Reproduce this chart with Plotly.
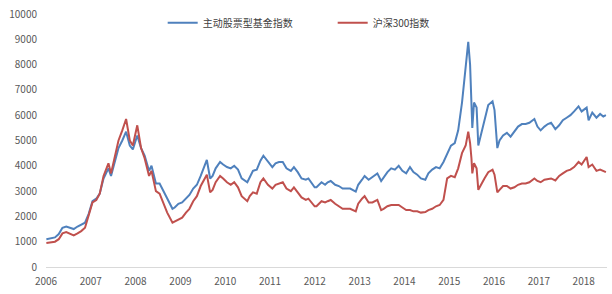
import plotly.graph_objects as go

dates = [
    "2006-01-04", "2006-02-15", "2006-03-15", "2006-04-15", "2006-05-15", "2006-06-15",
    "2006-07-15", "2006-08-15", "2006-09-15", "2006-10-15", "2006-11-15", "2006-12-15",
    "2007-01-15", "2007-02-15", "2007-03-15", "2007-04-15", "2007-05-25", "2007-06-15",
    "2007-07-15", "2007-08-15", "2007-09-15", "2007-10-16", "2007-11-15", "2007-12-10",
    "2008-01-15", "2008-02-15", "2008-03-15", "2008-04-20", "2008-05-10", "2008-06-15",
    "2008-07-15", "2008-08-15", "2008-09-15", "2008-10-28", "2008-11-15", "2008-12-15",
    "2009-01-15", "2009-02-15", "2009-03-15", "2009-04-15", "2009-05-15", "2009-06-15",
    "2009-07-10", "2009-08-04", "2009-08-31", "2009-09-20", "2009-10-15", "2009-11-20",
    "2009-12-15", "2010-01-15", "2010-02-15", "2010-03-15", "2010-04-15", "2010-05-15",
    "2010-06-30", "2010-07-20", "2010-08-15", "2010-09-15", "2010-10-15", "2010-11-08",
    "2010-12-15", "2011-01-20", "2011-02-15", "2011-03-15", "2011-04-15", "2011-05-15",
    "2011-06-20", "2011-07-15", "2011-08-15", "2011-09-15", "2011-10-20", "2011-11-10",
    "2011-12-31", "2012-01-15", "2012-02-25", "2012-03-25", "2012-04-15", "2012-05-10",
    "2012-06-15", "2012-07-15", "2012-08-15", "2012-09-15", "2012-10-15", "2012-11-30",
    "2012-12-20", "2013-01-20", "2013-02-10", "2013-03-15", "2013-04-15", "2013-05-25",
    "2013-06-25", "2013-07-15", "2013-08-15", "2013-09-15", "2013-10-15", "2013-11-15",
    "2013-12-15", "2014-01-15", "2014-02-15", "2014-03-15", "2014-04-15", "2014-05-15",
    "2014-06-20", "2014-07-15", "2014-08-15", "2014-09-15", "2014-10-15", "2014-11-15",
    "2014-12-15", "2015-01-15", "2015-02-15", "2015-03-15", "2015-04-15", "2015-05-15",
    "2015-06-05", "2015-06-20", "2015-07-01", "2015-07-08", "2015-07-22", "2015-08-12",
    "2015-08-26", "2015-09-15", "2015-10-15", "2015-11-15", "2015-12-20", "2016-01-05",
    "2016-01-28", "2016-02-15", "2016-03-15", "2016-04-15", "2016-05-15", "2016-06-15",
    "2016-07-15", "2016-08-15", "2016-09-15", "2016-10-15", "2016-11-25", "2016-12-20",
    "2017-01-15", "2017-02-15", "2017-03-15", "2017-04-10", "2017-05-15", "2017-06-15",
    "2017-07-15", "2017-08-15", "2017-09-15", "2017-10-15", "2017-11-20", "2017-12-15",
    "2018-01-25", "2018-02-10", "2018-03-12", "2018-04-15", "2018-05-15", "2018-06-10",
    "2018-07-01",
]

fund_index = [
    1100, 1150, 1170, 1300, 1550, 1600,
    1550, 1500, 1600, 1680, 1750, 2100,
    2600, 2700, 2900, 3500, 3900, 3600,
    4200, 4700, 5000, 5350, 4800, 4650,
    5200, 4700, 4400, 3800, 4000, 3300,
    3300, 3000, 2700, 2300, 2350, 2500,
    2550, 2700, 2850, 3100, 3250, 3600,
    3900, 4230, 3500, 3600, 3900, 4150,
    4050, 3950, 3900, 4000, 3850, 3500,
    3350, 3550, 3800, 3850, 4200, 4400,
    4150, 3950, 4100, 4150, 4150, 3900,
    3800, 3950, 3750, 3500, 3450, 3500,
    3150, 3150, 3350, 3250, 3350, 3400,
    3250, 3200, 3100, 3100, 3100, 2980,
    3250, 3450, 3600, 3450, 3550, 3700,
    3400, 3550, 3750, 3900, 3850, 4000,
    3800, 3700, 3950, 3750, 3650, 3500,
    3450, 3700, 3850, 3950, 3900, 4150,
    4500, 4800, 4900, 5400, 6500, 7800,
    8900, 8000, 6800, 5500, 6500, 6300,
    4800, 5200, 5900, 6400, 6550, 6200,
    4700, 5000, 5200, 5300, 5150, 5350,
    5550, 5650, 5650, 5700, 5850, 5550,
    5400, 5550, 5650, 5700, 5450, 5600,
    5800, 5900, 6000, 6150, 6350, 6150,
    6300, 5800, 6100, 5900, 6050, 5950,
    6000,
]

hs300_index = [
    950, 990, 1000, 1100, 1330, 1380,
    1300, 1250, 1330, 1420, 1550, 2000,
    2550, 2650, 2900, 3600, 4100, 3700,
    4400, 5000, 5400, 5850, 5000, 4800,
    5600, 4700, 4300, 3600, 3800, 3000,
    2900, 2500, 2150, 1750, 1800, 1850,
    1950, 2150, 2300, 2600, 2800, 3200,
    3450, 3650, 2950, 3050, 3350, 3600,
    3500, 3350, 3250, 3350, 3150, 2800,
    2600, 2800, 2950, 2900, 3350, 3500,
    3250, 3100, 3250, 3300, 3350, 3100,
    3000, 3150, 2950, 2750, 2650, 2700,
    2400, 2400, 2600, 2550, 2600, 2650,
    2500, 2400, 2300, 2300, 2300, 2200,
    2500, 2700, 2800, 2550, 2550, 2650,
    2250, 2300, 2400, 2450, 2450, 2450,
    2350, 2250, 2250, 2200, 2200, 2150,
    2170, 2250, 2300, 2400, 2450, 2650,
    3500, 3600, 3550, 3900, 4500, 4800,
    5350, 4900, 4300, 3700, 4100, 3900,
    3050, 3250, 3500, 3750, 3850, 3650,
    2950, 3050, 3200, 3200, 3100, 3150,
    3250, 3300, 3300, 3350, 3500, 3400,
    3350, 3450, 3480, 3500, 3420, 3600,
    3700, 3800, 3850, 3950, 4150, 4050,
    4350, 3950, 4050, 3800, 3850, 3800,
    3750,
]

series_names = ["主动股票型基金指数", "沪深300指数"]
y_ticks = [0, 1000, 2000, 3000, 4000, 5000, 6000, 7000, 8000, 9000, 10000]

font_family = "Noto Sans CJK SC, Noto Sans, sans-serif"
text_color = "#595959"

fig = go.Figure()
fig.add_trace(go.Scatter(x=dates, y=fund_index, mode="lines", name=series_names[0],
                         line=dict(color="#4F81BD", width=2)))
fig.add_trace(go.Scatter(x=dates, y=hs300_index, mode="lines", name=series_names[1],
                         line=dict(color="#C0504D", width=2)))

fig.update_layout(
    width=612, height=294,
    margin=dict(l=46, r=5, t=7, b=27),
    paper_bgcolor="white", plot_bgcolor="white",
    font=dict(family=font_family, size=10, color=text_color),
    showlegend=True,
    legend=dict(orientation="h", x=0.208, y=0.965, xanchor="left", yanchor="middle",
                bgcolor="rgba(0,0,0,0)", font=dict(size=10, color="#404040"),
                entrywidth=125, itemwidth=30),
)
fig.update_xaxes(
    type="date", range=["2006-01-01", "2018-07-10"],
    dtick="M12", tick0="2006-01-01", tickformat="%Y",
    showgrid=False, zeroline=False,
    showline=True, linecolor="#D9D9D9", linewidth=1,
    ticks="", ticklabelstandoff=5, tickfont=dict(size=10, color=text_color),
)
fig.update_yaxes(
    range=[0, 10000], tickvals=y_ticks, ticktext=[str(v) for v in y_ticks],
    showgrid=False, zeroline=False, showline=False,
    ticks="", ticklabelstandoff=8, tickfont=dict(size=10, color=text_color),
)

fig.write_html("out.html")
